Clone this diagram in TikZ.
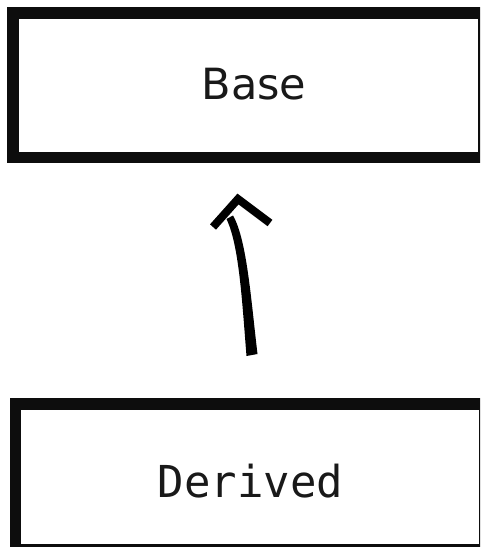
\documentclass[tikz,border=0pt]{standalone}
\usepackage{fontspec}
\newfontfamily\myserifless{DejaVu Sans}
\newfontfamily\mymonofam{DejaVu Sans Mono}
\begin{document}
\begin{tikzpicture}[x=1pt,y=-1pt,
  boxstyle/.style={draw=black!95, line width=11.5pt, fill=white, inner sep=0pt, rectangle},
  txtstyle/.style={inner sep=0pt, text=black!90},
  stroke/.style={draw=black, line width=10pt}]
\useasboundingbox (0,0) rectangle (480,547);
\clip (0,0) rectangle (480,547);
\fill[white] (0,0) rectangle (480,547);
% boxes
\node[boxstyle, minimum width=471.25pt, minimum height=144.5pt] (base) at (248.6,85.25) {};
\node[boxstyle, minimum width=468.75pt, minimum height=146pt] (derived) at (249.9,477) {};
\node[txtstyle, font=\myserifless\fontsize{43}{43}\selectfont] (basetext) at (254,84) {Base};
\node[txtstyle, font=\mymonofam\fontsize{44}{44}\selectfont] (derivedtext) at (250.5,481) {Derived};
% hand-drawn arrow (tapered shaft)
\coordinate (tail) at (252,355);
\coordinate (tip) at (230,217);
\coordinate (hl) at (213,227);
\coordinate (ha) at (238,199);
\coordinate (hr) at (270,223);
\fill[black] (246.5,356) .. controls (242,300) and (239,245) .. (226.5,219)
  -- (233,215.5) .. controls (247,240) and (251,300) .. (257.5,354) -- cycle;
\draw[draw=black, line width=8pt, line join=miter] (hl) -- (ha) -- (hr);
\end{tikzpicture}
\end{document}
